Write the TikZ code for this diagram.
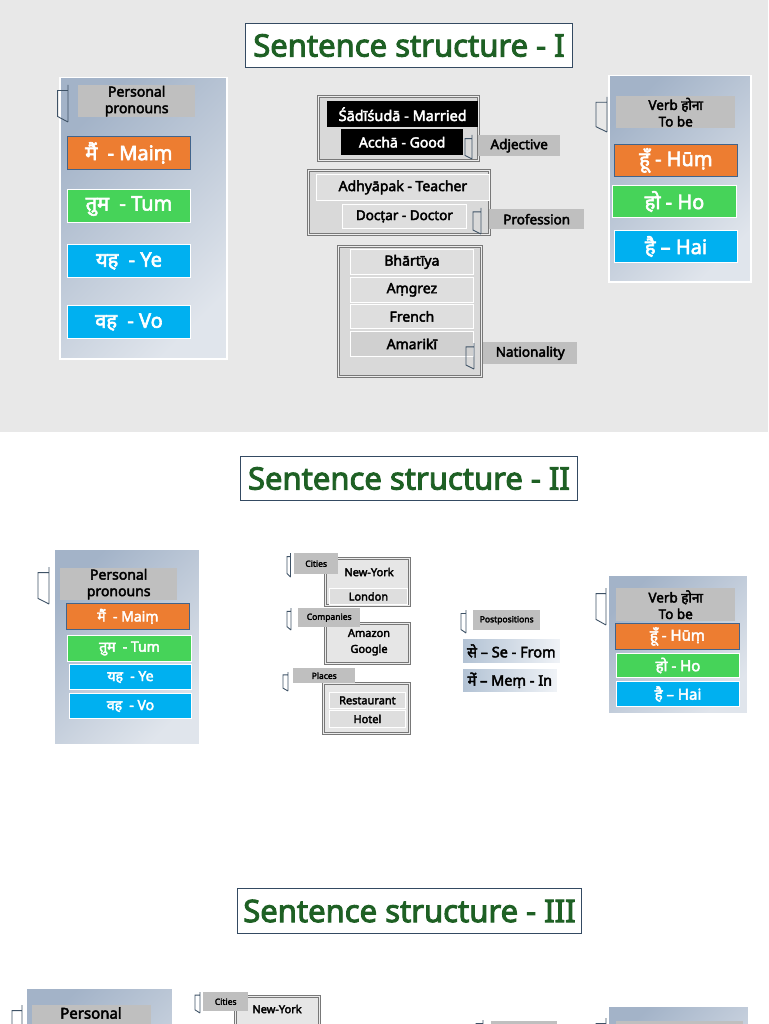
\documentclass[tikz,border=0pt]{standalone}
\usepackage{fontspec}
\setmainfont{Noto Sans}[BoldFont={Noto Sans}, BoldFeatures={FakeBold=3}]
\newfontfamily\hi[Script=Devanagari, BoldFont={Noto Sans}, BoldFeatures={FakeBold=3}]{Noto Sans}
\usepackage{tikz}
\usetikzlibrary{shadows}
\definecolor{bgGray}{RGB}{232,232,232}
\definecolor{titleGreen}{RGB}{30,96,36}
\definecolor{titleEdge}{RGB}{52,74,98}
\definecolor{hookCol}{RGB}{62,82,102}
\definecolor{panelDark}{RGB}{163,179,200}
\definecolor{panelLight}{RGB}{224,229,236}
\definecolor{hdrGray}{RGB}{191,191,191}
\definecolor{mOrange}{RGB}{237,125,49}
\definecolor{orangeEdge}{RGB}{65,100,140}
\definecolor{mGreen}{RGB}{70,211,89}
\definecolor{mBlue}{RGB}{0,176,240}
\definecolor{grpFill}{RGB}{217,217,217}
\definecolor{grpLight}{RGB}{230,230,230}
\definecolor{grpEdge}{RGB}{120,120,120}
\definecolor{rowFill}{RGB}{222,222,222}
\definecolor{rowDark}{RGB}{208,208,208}
\definecolor{postDark}{RGB}{178,194,212}
\definecolor{postLight}{RGB}{240,243,247}

\newcommand{\fsz}[2]{\fontsize{#1}{#2}\selectfont}
% small bracket mark beside a label
\newcommand{\hook}[4]{\draw[hookline, shift={(#1,#2)}, xscale=#3, yscale=#4] (1,0) -- (1,1) (1,0.15) -- (0,0.15) -- (0,0.85) -- (1,1);}

\tikzset{
  every node/.style={inner sep=0pt, align=center},
  boxsize/.style 2 args={minimum width=#1, minimum height=#2},
  slidetitle/.style={anchor=north west, draw=titleEdge, line width=1pt, fill=white, text=titleGreen, font=\bfseries\fsz{31}{36}},
  panel/.style={anchor=north west, draw=white, line width=1.5pt, top color=panelDark, bottom color=panelLight, shading angle=45,
    drop shadow={shadow xshift=1.5pt, shadow yshift=-1.5pt, opacity=0.3}},
  header/.style={anchor=north west, fill=hdrGray},
  tag/.style={anchor=north west, fill=hdrGray, font=\bfseries\fsz{13.5}{16}},
  minitag/.style={anchor=north west, fill=hdrGray, font=\bfseries\fsz{8.5}{10}},
  orangebox/.style={anchor=north west, fill=mOrange, draw=orangeEdge, line width=0.8pt, text=white},
  greenbox/.style={anchor=north west, fill=mGreen, draw=white, line width=1pt, text=white},
  bluebox/.style={anchor=north west, fill=mBlue, draw=white, line width=1pt, text=white},
  group/.style={anchor=north west, fill=grpFill, draw=grpEdge, line width=0.7pt, double=grpFill!50!white, double distance=1.4pt},
  row/.style={anchor=north west, fill=rowFill, draw=white, line width=0.8pt, font=\bfseries\fsz{14}{16}},
  blackrow/.style={anchor=north west, fill=black, text=white},
  word/.style={font=\bfseries\fsz{11}{13}},
  postbox/.style={anchor=north west, draw=white, line width=0.8pt, left color=postDark, right color=postLight,
    drop shadow={shadow xshift=1pt, shadow yshift=-1pt, opacity=0.25}, font=\bfseries\fsz{14.5}{16}},
  hookline/.style={draw=hookCol, line width=0.9pt},
}

\begin{document}
\begin{tikzpicture}[x=1pt, y=-1pt]
\useasboundingbox (0,0) rectangle (768,1024);
\clip (0,0) rectangle (768,1024);

% ---------- Sentence structure - I ----------
\fill[bgGray] (0,0) rectangle (768,432);
\node[slidetitle, boxsize={327}{44}] (title1) at (245,23) {Sentence structure - I};

\node[panel, boxsize={167}{281}] (pron1) at (59,77) {};
\node[header, boxsize={117}{32}, font=\bfseries\fsz{14}{16.5}] (pronhd1) at (78,85) {Personal\\pronouns};
\hook{57.5}{85}{10.5}{37}
\node[orangebox, boxsize={123}{33}, font=\bfseries\fsz{20}{22}] (maim1) at (67,136) {{\hi मैं}\ \ - Maiṃ};
\node[greenbox, boxsize={123}{33}, font=\bfseries\fsz{20}{22}] (tum1) at (67,189) {{\hi तुम}\ \ - Tum};
\node[bluebox, boxsize={123}{33}, font=\bfseries\fsz{20}{22}] (ye1) at (67,244) {{\hi यह}\ \ - Ye};
\node[bluebox, boxsize={123}{33}, font=\bfseries\fsz{20}{22}] (vo1) at (67,305) {{\hi वह}\ \ - Vo};

\node[group, boxsize={160}{64}] (adjgrp) at (318,96) {};
\node[blackrow, boxsize={151}{26}, font=\bfseries\fsz{14.5}{16}] (married) at (327,101) {Śādīśudā - Married};
\node[blackrow, boxsize={122}{26}, font=\bfseries\fsz{14}{16}] (good) at (341,129) {Acchā - Good};
\hook{465}{135}{7}{24}
\node[tag, boxsize={82}{21}] (adjtag) at (478,135) {Adjective};

\node[group, boxsize={181}{64}] (profgrp) at (308,170) {};
\node[row, boxsize={173}{26}] (teacher) at (316,174) {Adhyāpak - Teacher};
\node[row, boxsize={124}{24}, font=\bfseries\fsz{13.5}{15}] (doctor) at (342,204) {Docṭar - Doctor};
\hook{473}{208}{8}{26}
\node[tag, boxsize={95}{20}] (proftag) at (489,209) {Profession};

\node[group, boxsize={143}{130}] (natgrp) at (338,246) {};
\node[row, boxsize={123}{25}] (bhartiya) at (350,249) {Bhārtīya};
\node[row, boxsize={123}{25}] (amgrez) at (350,277) {Aṃgrez};
\node[row, boxsize={123}{24}] (french) at (350,304) {French};
\node[row, fill=rowDark, boxsize={123}{25}] (amariki) at (350,331) {Amarikī};
\hook{466}{343}{8}{26}
\node[tag, boxsize={94}{22}] (nattag) at (483,342) {Nationality};

\node[panel, boxsize={142}{206}] (verb1) at (608,75) {};
\node[header, boxsize={119}{32}, font=\bfseries\fsz{13.5}{16.5}] (verbhd1) at (616,96) {Verb {\hi होना}\\To be};
\hook{596}{97}{11}{35}
\node[orangebox, boxsize={123}{32}, font=\bfseries\fsz{20}{22}] (hum1) at (614,144) {{\hi हूँ} - Hūṃ};
\node[greenbox, boxsize={124}{32}, font=\bfseries\fsz{20}{22}] (ho1) at (612,185) {{\hi हो} - Ho};
\node[bluebox, boxsize={123}{32}, font=\bfseries\fsz{20}{22}] (hai1) at (614,230) {{\hi है} – Hai};

% ---------- Sentence structure - II ----------
\node[slidetitle, boxsize={337}{44}] (title2) at (240,456) {Sentence structure - II};

\node[panel, boxsize={146}{196}] (pron2) at (53,548) {};
\node[header, boxsize={117}{32}, font=\bfseries\fsz{14}{16.5}] (pronhd2) at (60,568) {Personal\\pronouns};
\hook{38}{567}{11}{37}
\node[orangebox, boxsize={123}{26}, font=\bfseries\fsz{14}{16}] (maim2) at (66,603) {{\hi मैं}\ \ - Maiṃ};
\node[greenbox, boxsize={124}{26}, font=\bfseries\fsz{14}{16}] (tum2) at (67,635) {{\hi तुम}\ \ - Tum};
\node[bluebox, boxsize={122}{25}, font=\bfseries\fsz{14}{16}] (ye2) at (69,664) {{\hi यह}\ \ - Ye};
\node[bluebox, boxsize={122}{25}, font=\bfseries\fsz{14}{16}] (vo2) at (69,693) {{\hi वह}\ \ - Vo};

\node[group, fill=grpLight, boxsize={84}{47}] (citygrp) at (325,558) {};
\node[word] (newyork) at (369,572) {New-York};
\node[row, boxsize={78}{16}, word] (london) at (329,588) {London};
\hook{287}{553}{3.5}{24}
\node[minitag, boxsize={44}{21}] (citytag) at (294,553) {Cities};

\node[group, fill=grpLight, boxsize={84}{40}] (compgrp) at (325,623) {};
\node[word] (amazon) at (369,633) {Amazon};
\node[word] (google) at (369,650) {Google};
\hook{287}{608}{4}{22}
\node[minitag, boxsize={62}{19}] (comptag) at (298,608) {Companies};

\node[group, fill=grpLight, boxsize={86}{50}] (placegrp) at (323,683) {};
\node[row, boxsize={76}{16}, word] (restaurant) at (329,692) {Restaurant};
\node[row, boxsize={76}{17}, word] (hotel) at (329,710) {Hotel};
\hook{283}{672}{5}{19}
\node[minitag, boxsize={62}{15}] (placetag) at (293,668) {Places};

\hook{461}{610}{5}{23}
\node[minitag, boxsize={67}{20}] (posttag) at (473,610) {Postpositions};
\node[postbox, boxsize={98}{25}] (se) at (462,638) {{\hi से} – Se - From};
\node[postbox, boxsize={95}{24}] (mem) at (462,668) {{\hi में} – Meṃ - In};

\node[panel, boxsize={140}{139}] (verb2) at (607,574) {};
\node[header, boxsize={119}{33}, font=\bfseries\fsz{13.5}{16.5}] (verbhd2) at (616,588) {Verb {\hi होना}\\To be};
\hook{596}{588}{10}{37}
\node[orangebox, boxsize={124}{26}, font=\bfseries\fsz{15}{17}] (hum2) at (615,623) {{\hi हूँ} - Hūṃ};
\node[greenbox, boxsize={123}{24}, font=\bfseries\fsz{15}{17}] (ho2) at (616,653) {{\hi हो} - Ho};
\node[bluebox, boxsize={123}{25}, font=\bfseries\fsz{15}{17}] (hai2) at (616,681) {{\hi है} – Hai};

% ---------- Sentence structure - III ----------
\node[slidetitle, boxsize={344}{45}] (title3) at (237,888) {Sentence structure - III};

\node[panel, boxsize={147}{200}] (pron3) at (25,987) {};
\node[header, boxsize={119}{32}] (pronhd3) at (32,1005) {};
\node[font=\bfseries\fsz{15}{17}] (personal3) at (91,1013) {Personal};
\hook{12}{1005}{10}{37}

\node[group, fill=grpLight, boxsize={84}{47}] (citygrp3) at (235,996) {};
\node[word] (newyork3) at (277,1009) {New-York};
\hook{195}{992}{5}{21}
\node[minitag, boxsize={45}{19}] (citytag3) at (203,992) {Cities};

\hook{476}{1020}{7}{23}
\node[minitag, boxsize={66}{20}] (posttag3) at (491,1021) {};

\node[panel, boxsize={141}{140}] (verb3) at (607,1005) {};
\hook{596}{1018}{10}{37}
\node[header, boxsize={127}{32}] (verbhd3) at (616,1021) {};
\end{tikzpicture}
\end{document}
